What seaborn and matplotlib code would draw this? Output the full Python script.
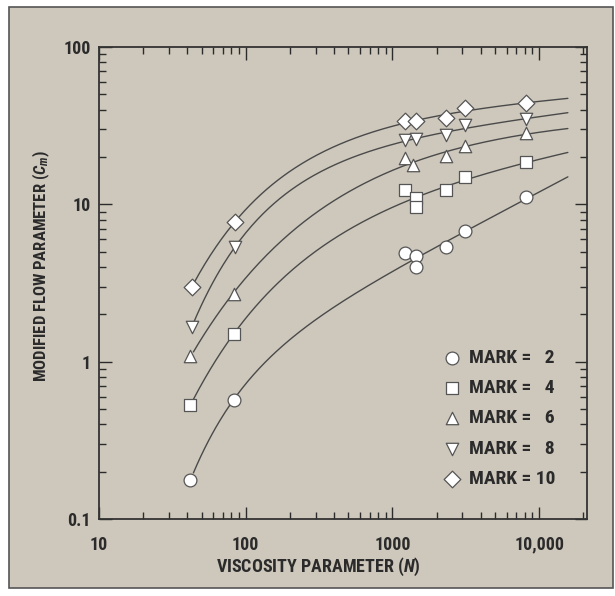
import numpy as np
import pandas as pd
import matplotlib
matplotlib.use("Agg")
import matplotlib.pyplot as plt
from matplotlib import font_manager as fm
from matplotlib.patches import Rectangle
import seaborn as sns

# ---- data ----
marks = [2, 4, 6, 8, 10]
n_mark2 = [42, 83, 1225, 1440, 1450, 2330, 3100, 8200]
cm_mark2 = [0.177, 0.573, 4.87, 4.67, 3.97, 5.32, 6.73, 11.2]
n_mark4 = [42, 83, 1225, 1440, 1440, 2330, 3100, 8200]
cm_mark4 = [0.532, 1.49, 12.3, 10.9, 9.57, 12.3, 14.9, 18.5]
n_mark6 = [42, 83, 1225, 1390, 2330, 3100, 8200]
cm_mark6 = [1.08, 2.71, 19.6, 17.7, 20.2, 23.4, 28.3]
n_mark8 = [43, 84, 1225, 1440, 2330, 3100, 8200]
cm_mark8 = [1.67, 5.32, 25.6, 25.9, 27.5, 31.9, 34.8]
n_mark10 = [43, 84, 1225, 1450, 2330, 3100, 8200]
cm_mark10 = [3.0, 7.68, 33.8, 33.8, 35.3, 40.9, 44.0]

x_ticks = [10, 100, 1000, 10000]
x_tick_labels = ["10", "100", "1000", "10,000"]
y_ticks = [0.1, 1, 10, 100]
y_tick_labels = ["0.1", "1", "10", "100"]

series_n = [n_mark2, n_mark4, n_mark6, n_mark8, n_mark10]
series_cm = [cm_mark2, cm_mark4, cm_mark6, cm_mark8, cm_mark10]
markers = ["o", "s", "^", "v", "D"]
marker_sizes = [85, 70, 80, 80, 72]

# ---- pick a condensed bold font if one is installed ----
names = {f.name for f in fm.fontManager.ttflist}
FAM = "DejaVu Sans"
for cand in ["Roboto Condensed", "Liberation Sans Narrow", "Open Sans Condensed",
             "DejaVu Sans Condensed", "Asap Condensed"]:
    if cand in names:
        FAM = cand
        break
FONT = [FAM, "DejaVu Sans"]

sns.set_style("ticks")
plt.rcParams["font.family"] = FONT
plt.rcParams["font.weight"] = "bold"
plt.rcParams["mathtext.fontset"] = "custom"
plt.rcParams["mathtext.it"] = f"{FAM}:italic:bold"
plt.rcParams["mathtext.rm"] = f"{FAM}:bold"

BG = "#cec8bc"
INK = "#2b2b2b"
LINE = "#4a4a4a"


def smooth_fit(n, cm):
    """least-squares fit log y = a + b log x - c x^-q, best q on a grid"""
    x = np.asarray(n, float)
    ly = np.log10(np.asarray(cm, float))
    best = None
    for q in np.linspace(0.1, 2.0, 96):
        A = np.column_stack([np.ones_like(x), np.log10(x), x ** -q])
        coef, *_ = np.linalg.lstsq(A, ly, rcond=None)
        err = ((A @ coef - ly) ** 2).sum()
        if best is None or err < best[0]:
            best = (err, q, coef)
    _, q, coef = best
    return lambda xs: 10 ** (coef[0] + coef[1] * np.log10(xs) + coef[2] * xs ** -q)


fig = plt.figure(figsize=(6.15, 5.96), dpi=100, facecolor="white")
fig.patches.append(Rectangle((9 / 615, 1 - 588 / 596), (613 - 9) / 615, (588 - 7) / 596,
                             transform=fig.transFigure, facecolor=BG, edgecolor="#555555",
                             linewidth=1.2, zorder=-10))
ax = fig.add_axes([99 / 615, 1 - 519 / 596, (587 - 99) / 615, (519 - 47) / 596])
ax.set_facecolor(BG)
ax.set_xscale("log")
ax.set_yscale("log")

for mk, n, cm, m, s in zip(marks, series_n, series_cm, markers, marker_sizes):
    f = smooth_fit(n, cm)
    xs = np.geomspace(44, 15700, 200)
    sns.lineplot(x=xs, y=f(xs), ax=ax, color=LINE, linewidth=1.0, legend=False, zorder=2)
    label = f"MARK = {mk:>2}".replace("=  ", "=   ")
    sns.scatterplot(x=n, y=cm, ax=ax, marker=m, s=s, facecolor="white",
                    edgecolor="#555555", linewidth=0.9, label=label, zorder=3)

ax.set_xlim(10, 21200)
ax.set_ylim(0.1, 100)
ax.set_xticks(x_ticks, x_tick_labels)
ax.set_yticks(y_ticks, y_tick_labels)
ax.xaxis.set_minor_locator(matplotlib.ticker.LogLocator(base=10, subs=np.arange(2, 10)))
ax.yaxis.set_minor_locator(matplotlib.ticker.LogLocator(base=10, subs=np.arange(2, 10)))
ax.xaxis.set_minor_formatter(matplotlib.ticker.NullFormatter())
ax.yaxis.set_minor_formatter(matplotlib.ticker.NullFormatter())
ax.tick_params(which="both", direction="in", top=True, right=True, color=INK, width=1.0)
ax.tick_params(which="major", length=9)
ax.tick_params(which="minor", length=5)
ax.tick_params(axis="x", which="major", pad=12, labelsize=13, labelcolor=INK)
ax.tick_params(axis="y", which="major", pad=6, labelsize=13, labelcolor=INK)
for lab in ax.get_xticklabels() + ax.get_yticklabels():
    lab.set_fontweight("bold")
for sp in ax.spines.values():
    sp.set_color("#333333")
    sp.set_linewidth(1.3)

ax.set_xlabel("VISCOSITY PARAMETER ($\\mathit{N}$)", fontsize=13, fontweight="bold",
              color=INK, va="center")
ax.set_ylabel("MODIFIED FLOW PARAMETER ($\\mathit{C_m}$)", fontsize=12, fontweight="bold",
              color=INK, va="center")
ax.xaxis.set_label_coords((318 - 99) / 488, -(567 - 519) / 472)
ax.yaxis.set_label_coords(-(99 - 41) / 488, (519 - 266) / 472)

leg = ax.legend(loc="lower right", bbox_to_anchor=(0.96, 0.041), frameon=False,
                prop={"family": FONT, "weight": "bold", "size": 14},
                labelspacing=0.63, handletextpad=0.4, borderaxespad=0.2, handlelength=1.0)
for t in leg.get_texts():
    t.set_color(INK)

fig.savefig("out.png", dpi=100, facecolor="white")
